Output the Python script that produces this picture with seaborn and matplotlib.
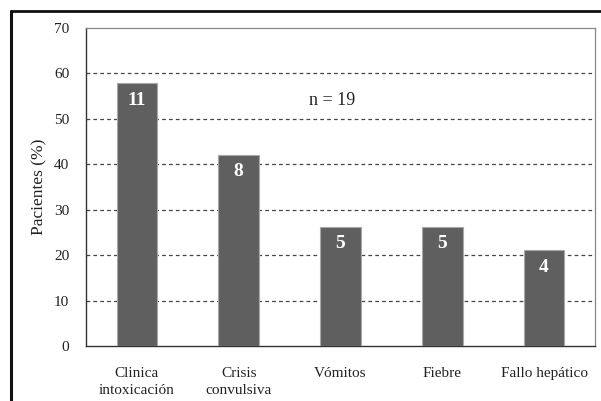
import pandas as pd
import numpy as np
import matplotlib.pyplot as plt
import seaborn as sns
from matplotlib.lines import Line2D

# Data
categorias = ['Clinica\nintoxicación', 'Crisis\nconvulsiva', 'Vómitos', 'Fiebre', 'Fallo hepático']
porcentaje = [57.9, 42.1, 26.3, 26.3, 21.1]
pacientes = [11, 8, 5, 5, 4]

df = pd.DataFrame({'categoria': categorias, 'porcentaje': porcentaje, 'n': pacientes})

sns.set_style('white')
plt.rcParams['font.family'] = ['Liberation Serif', 'DejaVu Serif']

fig = plt.figure(figsize=(6.01, 4.01), dpi=100)
ax = fig.add_axes([86 / 601, 1 - 346 / 401, 509 / 601, 318 / 401])

sns.barplot(data=df, x='categoria', y='porcentaje', color='#5f5f5f', width=0.4,
            edgecolor='#a8a8a8', linewidth=0.8, saturation=1, ax=ax, zorder=3)

# dashed grid
ax.set_ylim(0, 70)
ax.set_xlim(-0.5, 4.5)
ax.set_yticks(np.arange(0, 71, 10))
for y in range(10, 70, 10):
    ax.axhline(y, color='#444444', linestyle=(0, (3, 2.5)), linewidth=0.9, zorder=1)

# count labels inside bars
for i, (p, n) in enumerate(zip(porcentaje, pacientes)):
    ax.text(i, p - 1.9, str(n), ha='center', va='top', color='white',
            fontsize=14, fontweight='bold')

ax.text(1.92, 54.0, 'n = 19', ha='center', va='center', fontsize=13, color='#222222')

ax.set_xlabel('')
ax.set_ylabel('Pacientes (%)', fontsize=12.5, color='#222222', labelpad=5)
ax.tick_params(axis='both', length=0, labelsize=11, colors='#222222')
ax.tick_params(axis='x', pad=15)
ax.tick_params(axis='y', pad=12)
for lbl in ax.get_xticklabels():
    lbl.set_linespacing(1.45)

for side in ['top', 'right']:
    ax.spines[side].set_color('#888888')
    ax.spines[side].set_linewidth(0.9)
for side in ['left', 'bottom']:
    ax.spines[side].set_color('#333333')
    ax.spines[side].set_linewidth(1.0)

# outer frame (left and top edges)
fig.add_artist(Line2D([11 / 601, 11 / 601], [0, 1 - 11 / 401], color='#111111', linewidth=2.2))
fig.add_artist(Line2D([11 / 601, 1], [1 - 11 / 401, 1 - 11 / 401], color='#111111', linewidth=2.0))

plt.savefig('out.png', dpi=100)
